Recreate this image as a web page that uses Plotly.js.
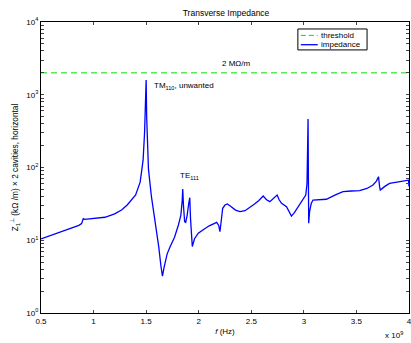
<!DOCTYPE html>
<html>
<head>
<meta charset="utf-8">
<script src="https://cdn.plot.ly/plotly-3.0.1.min.js"></script>
<style>html,body{margin:0;padding:0;background:#fff;}#chart{width:411px;height:343px;}</style>
</head>
<body>
<div id="chart"></div>
<script>
// Frequency in units of 1e9 Hz
const freqGHz = [0.5,0.6,0.7,0.8,0.86,0.886,0.902,0.915,1.0,1.108,1.2,1.266,1.32,1.36,1.40,1.443,1.471,1.485,1.493,1.5,
  1.505,1.512,1.522,1.55,1.585,1.62,1.64,1.655,1.67,1.7,1.73,1.77,1.807,1.83,1.843,1.848,1.855,1.866,1.876,1.89,1.905,1.915,
  1.922,1.93,1.939,1.96,1.996,2.05,2.1,2.171,2.19,2.202,2.215,2.228,2.25,2.272,2.3,2.35,2.392,2.44,2.518,2.57,2.613,2.645,
  2.676,2.71,2.746,2.765,2.788,2.835,2.86,2.882,2.91,2.945,2.98,3.018,3.03,3.036,3.04,3.043,3.046,3.055,3.07,3.087,3.15,
  3.214,3.3,3.372,3.45,3.53,3.6,3.657,3.69,3.71,3.72,3.727,3.77,3.815,3.9,3.99,3.995,4.0];
const impedance = [10.4,11.7,13.0,14.6,16.0,16.9,19.8,19.4,19.8,20.7,23,26,30.5,35.7,42,63,126,300,700,1600,
  500,180,95,40,18.4,8.1,4.5,3.2,4.2,6.5,8.3,11,16.2,22,35,50.6,30,18,17.6,22,32,38.5,
  20,10,8.2,10.5,12.5,14.2,15.8,17.6,16,13.1,20,27.5,30.5,31.5,29.5,26,24.7,25.5,30.5,35,40.6,36,
  33.9,38,41.9,36,32.2,28.9,25,21.5,24,28.9,34,41.9,60,150,464,80,17.1,25,32,35.7,35.8,
  36.6,42,46.5,47.5,48,51.5,57.5,65,74.8,55,49,55,60.6,63.5,66,67,55];
const thresholdX = [0.5, 4];
const thresholdY = [2000, 2000];
const seriesNames = ['threshold', 'impedance'];
const seriesColors = ['#00e000', '#0000ff'];
const yDecades = [1, 10, 100, 1000, 10000];
const yDecadeLabels = ['10<sup>0</sup>','10<sup>1</sup>','10<sup>2</sup>','10<sup>3</sup>','10<sup>4</sup>'];
const yMinorMultipliers = [2, 3, 4, 5, 6, 7, 8, 9];
const xTickVals = [0.5, 1, 1.5, 2, 2.5, 3, 3.5, 4];
const xTickText = ['0.5','1','1.5','2','2.5','3','3.5','4'];

// y ticks: labelled decades plus unlabelled minor ticks between them
const yTickVals = yDecades.slice();
const yTickText = yDecadeLabels.slice();
yDecades.slice(0, -1).forEach(d => yMinorMultipliers.forEach(m => { yTickVals.push(d * m); yTickText.push(''); }));

const traces = [
  {x: thresholdX, y: thresholdY, type: 'scatter', mode: 'lines', name: seriesNames[0], showlegend: false,
   line: {color: seriesColors[0], width: 1, dash: '6px,4px'}},
  {x: freqGHz, y: impedance, type: 'scatter', mode: 'lines', name: seriesNames[1], showlegend: false,
   line: {color: seriesColors[1], width: 1.3}}
];

// compact legend box (paper coordinates)
const lg = {x0: 0.698, x1: 0.886, y0: 0.904, y1: 0.976, lineX0: 0.706, lineX1: 0.752, textX: 0.758, rows: [0.954, 0.922]};
const shapes = [
  {type: 'rect', xref: 'paper', yref: 'paper', x0: lg.x0, x1: lg.x1, y0: lg.y0, y1: lg.y1,
   line: {color: '#000', width: 1}, fillcolor: '#fff', layer: 'above'},
  {type: 'line', xref: 'paper', yref: 'paper', x0: lg.lineX0, x1: lg.lineX1, y0: lg.rows[0], y1: lg.rows[0],
   line: {color: seriesColors[0], width: 1, dash: '5px,3px'}, layer: 'above'},
  {type: 'line', xref: 'paper', yref: 'paper', x0: lg.lineX0, x1: lg.lineX1, y0: lg.rows[1], y1: lg.rows[1],
   line: {color: seriesColors[1], width: 1.3}, layer: 'above'}
];

const fontFam = 'Liberation Sans, Arial, Helvetica, sans-serif';
const layout = {
  width: 411, height: 343,
  margin: {l: 41, r: 2, t: 22, b: 30},
  paper_bgcolor: '#fff', plot_bgcolor: '#fff',
  font: {family: fontFam, size: 8, color: '#000'},
  title: {text: 'Transverse Impedance', font: {size: 8.5, family: fontFam}, x: 0.55, xanchor: 'center', y: 0.963, yanchor: 'middle'},
  showlegend: false,
  xaxis: {range: [0.5, 4], tickmode: 'array', tickvals: xTickVals, ticktext: xTickText, ticks: 'inside', ticklen: 3,
    showline: true, linecolor: '#000', linewidth: 1, mirror: 'ticks', showgrid: false, zeroline: false,
    ticklabeloverflow: 'allow',
    tickfont: {size: 8}, title: {text: '<i>f</i> (Hz)', font: {size: 8}, standoff: 3}},
  yaxis: {type: 'log', range: [0, 4], tickmode: 'array', tickvals: yTickVals, ticktext: yTickText, ticks: 'inside', ticklen: 3,
    showline: true, linecolor: '#000', linewidth: 1, mirror: 'ticks', showgrid: false, zeroline: false,
    tickfont: {size: 8}, ticklabeloverflow: 'allow',
    title: {text: 'Z<sub>1</sub><sup>⊥</sup> (kΩ /m) × 2 cavities, horizontal', font: {size: 8.3}, standoff: 6}},
  shapes: shapes,
  annotations: [
    {x: lg.textX, y: lg.rows[0], xref: 'paper', yref: 'paper', text: seriesNames[0], showarrow: false, xanchor: 'left', yanchor: 'middle', borderpad: 0, font: {size: 8}},
    {x: lg.textX, y: lg.rows[1], xref: 'paper', yref: 'paper', text: seriesNames[1], showarrow: false, xanchor: 'left', yanchor: 'middle', borderpad: 0, font: {size: 8}},
    {x: 2.355, y: Math.log10(2730), xref: 'x', yref: 'y', text: '2 MΩ/m', showarrow: false, font: {size: 8}},
    {x: 1.557, y: Math.log10(1320), xref: 'x', yref: 'y', text: 'TM<sub>110</sub>, unwanted', showarrow: false, xanchor: 'left', font: {size: 8}},
    {x: 1.805, y: Math.log10(76), xref: 'x', yref: 'y', text: 'TE<sub>111</sub>', showarrow: false, xanchor: 'left', font: {size: 8}},
    {x: 0.99, y: -0.1, xref: 'paper', yref: 'paper', text: 'x 10<sup>9</sup>', showarrow: false, xanchor: 'right', font: {size: 8}}
  ]
};
Plotly.newPlot('chart', traces, layout, {displayModeBar: false, staticPlot: true});
</script>
</body>
</html>
